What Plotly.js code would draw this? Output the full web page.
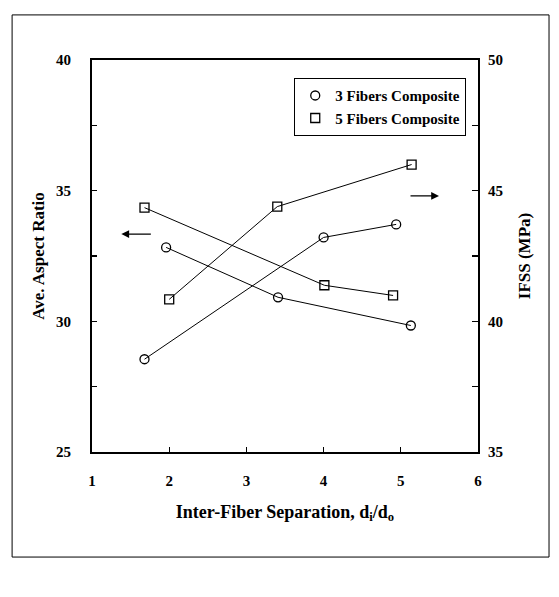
<!DOCTYPE html>
<html>
<head>
<meta charset="utf-8">
<script src="https://cdn.plot.ly/plotly-3.0.1.min.js"></script>
<style>html,body{margin:0;padding:0;background:#fff;}#chart{width:559px;height:597px;}</style>
</head>
<body>
<div id="chart"></div>
<script>
// Data
var names = ['3 Fibers Composite', '5 Fibers Composite'];
// Average aspect ratio (left axis)
var ar3_x = [1.96, 3.41, 5.13];
var ar3_y = [32.83, 30.92, 29.84];
var ar5_x = [1.68, 4.01, 4.90];
var ar5_y = [34.35, 31.38, 30.99];
// IFSS in MPa (right axis)
var ifss3_x = [1.68, 4.00, 4.94];
var ifss3_y = [38.55, 43.21, 43.71];
var ifss5_x = [2.00, 3.40, 5.14];
var ifss5_y = [40.84, 44.39, 46.00];
// Tick labels
var xTicks = [1, 2, 3, 4, 5, 6];
var yLeftTicks = [25, 30, 35, 40];
var yRightTicks = [35, 40, 45, 50];

var FONT = 'Liberation Serif, Times New Roman, serif';
function lineStyle(){ return {color: '#000', width: 1}; }
function mk(sym){ return {symbol: sym, size: 9, color: '#000', line: {color: '#000', width: 1.3}}; }

var traces = [
  {x: ar3_x, y: ar3_y, mode: 'lines+markers', line: lineStyle(), marker: mk('circle-open'), showlegend: false, yaxis: 'y'},
  {x: ar5_x, y: ar5_y, mode: 'lines+markers', line: lineStyle(), marker: mk('square-open'), showlegend: false, yaxis: 'y'},
  {x: ifss3_x, y: ifss3_y, mode: 'lines+markers', line: lineStyle(), marker: mk('circle-open'), showlegend: false, yaxis: 'y2'},
  {x: ifss5_x, y: ifss5_y, mode: 'lines+markers', line: lineStyle(), marker: mk('square-open'), showlegend: false, yaxis: 'y2'},
  // legend entries (markers only)
  {x: [null], y: [null], mode: 'markers', name: names[0], marker: mk('circle-open'), showlegend: true},
  {x: [null], y: [null], mode: 'markers', name: names[1], marker: mk('square-open'), showlegend: true}
];

var layout = {
  width: 559, height: 597,
  margin: {l: 92, r: 81, t: 60, b: 145},
  paper_bgcolor: '#fff', plot_bgcolor: '#fff',
  font: {family: FONT, color: '#000', size: 15, weight: 'bold'},
  xaxis: {
    range: [1, 6], tickvals: xTicks, ticks: 'inside', ticklen: 5, tickwidth: 1.2, tickcolor: '#000',
    showline: true, linewidth: 2, linecolor: '#000', mirror: true, showgrid: false, zeroline: false,
    ticklabelstandoff: 14,
    tickfont: {family: FONT, size: 15, weight: 'bold'},
    title: {text: 'Inter-Fiber Separation, d<sub>i</sub>/d<sub>o</sub>', font: {family: FONT, size: 18, weight: 'bold'}, standoff: 17}
  },
  yaxis: {
    range: [25, 40], tickvals: yLeftTicks, ticks: 'inside', ticklen: 5, tickwidth: 1.2, tickcolor: '#000',
    minor: {dtick: 2.5, ticks: 'inside', ticklen: 5, tickwidth: 1.2, tickcolor: '#000', showgrid: false},
    showline: true, linewidth: 2, linecolor: '#000', showgrid: false, zeroline: false,
    ticklabelstandoff: 16,
    tickfont: {family: FONT, size: 15, weight: 'bold'},
    title: {text: 'Ave. Aspect Ratio', font: {family: FONT, size: 17, weight: 'bold'}, standoff: 7}
  },
  yaxis2: {
    range: [35, 50], tickvals: yRightTicks, overlaying: 'y', side: 'right',
    ticks: 'inside', ticklen: 6, tickwidth: 1.2, tickcolor: '#000',
    minor: {dtick: 2.5, ticks: 'inside', ticklen: 6, tickwidth: 1.2, tickcolor: '#000', showgrid: false},
    showline: true, linewidth: 2, linecolor: '#000', showgrid: false, zeroline: false,
    ticklabelstandoff: 5,
    tickfont: {family: FONT, size: 15, weight: 'bold'},
    title: {text: 'IFSS (MPa)', font: {family: FONT, size: 17, weight: 'bold'}, standoff: 16}
  },
  legend: {
    x: 0.969, y: 0.954, xanchor: 'right', yanchor: 'top',
    bgcolor: '#fff', bordercolor: '#000', borderwidth: 1.2,
    font: {family: FONT, size: 15, weight: 'bold'},
    itemwidth: 30, tracegroupgap: 0
  },
  annotations: [
    {x: 1.38, y: 33.34, xref: 'x', yref: 'y', text: '', showarrow: true, ax: 31, ay: 0,
     arrowhead: 2, arrowsize: 1.3, arrowwidth: 1.2, arrowcolor: '#000'},
    {x: 5.495, y: 34.8, xref: 'x', yref: 'y', text: '', showarrow: true, ax: -30, ay: 0,
     arrowhead: 2, arrowsize: 1.3, arrowwidth: 1.2, arrowcolor: '#000'}
  ],
  shapes: [
    {type: 'rect', xref: 'paper', yref: 'paper', x0: -0.207, x1: 1.184, y0: -0.268, y1: 1.115,
     line: {color: '#000', width: 1}, fillcolor: 'rgba(0,0,0,0)'}
  ]
};

Plotly.newPlot('chart', traces, layout, {displayModeBar: false, staticPlot: true});
</script>
</body>
</html>
